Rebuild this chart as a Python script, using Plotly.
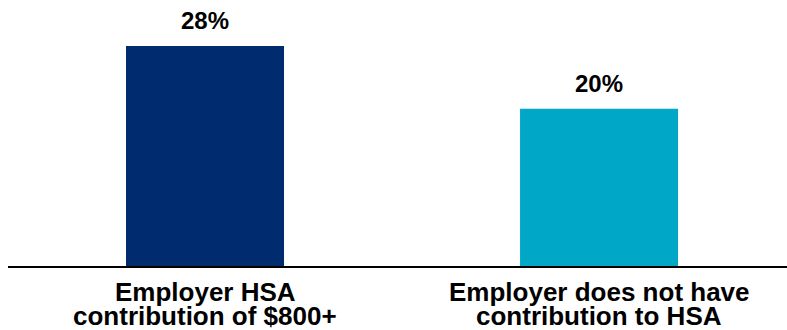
import plotly.graph_objects as go

# Category labels, split into their two display lines
label_line1 = ["Employer HSA", "Employer does not have"]
label_line2 = ["contribution of $800+", "contribution to HSA"]
values = [28, 20]
value_labels = ["28%", "20%"]
colors = ["#002B6E", "#00A7C6"]

positions = list(range(len(values)))
FONT = "Liberation Sans, Arial, sans-serif"

fig = go.Figure(
    go.Bar(
        x=positions,
        y=values,
        width=0.401,
        marker=dict(color=colors, line=dict(width=0)),
        hoverinfo="skip",
    )
)

annotations = []
# value labels above each bar
for x, v, t in zip(positions, values, value_labels):
    annotations.append(dict(
        x=x, y=v, xref="x", yref="y", text=f"<b>{t}</b>",
        showarrow=False, yanchor="bottom", xanchor="center", yshift=10,
        font=dict(family=FONT, size=24, color="#000000"),
    ))
# two-line category labels under the axis, set with tight line spacing
for x, l1, l2 in zip(positions, label_line1, label_line2):
    for text, shift in ((l1, -26), (l2, -50)):
        annotations.append(dict(
            x=x, y=0, xref="x", yref="paper", text=f"<b>{text}</b>",
            showarrow=False, yanchor="middle", xanchor="center", yshift=shift,
            font=dict(family=FONT, size=26, color="#000000"),
        ))

fig.update_layout(
    width=787,
    height=330,
    margin=dict(l=8, r=0, t=0, b=64),
    paper_bgcolor="white",
    plot_bgcolor="white",
    showlegend=False,
    font=dict(family=FONT, color="#000000"),
    annotations=annotations,
)

fig.update_xaxes(
    range=[-0.5, 1.477],
    showticklabels=False,
    showline=True,
    linecolor="#000000",
    linewidth=2,
    showgrid=False,
    zeroline=False,
    ticks="",
)

fig.update_yaxes(
    range=[0, 33.84],
    visible=False,
    showgrid=False,
    zeroline=False,
)

fig.write_html("out.html")
